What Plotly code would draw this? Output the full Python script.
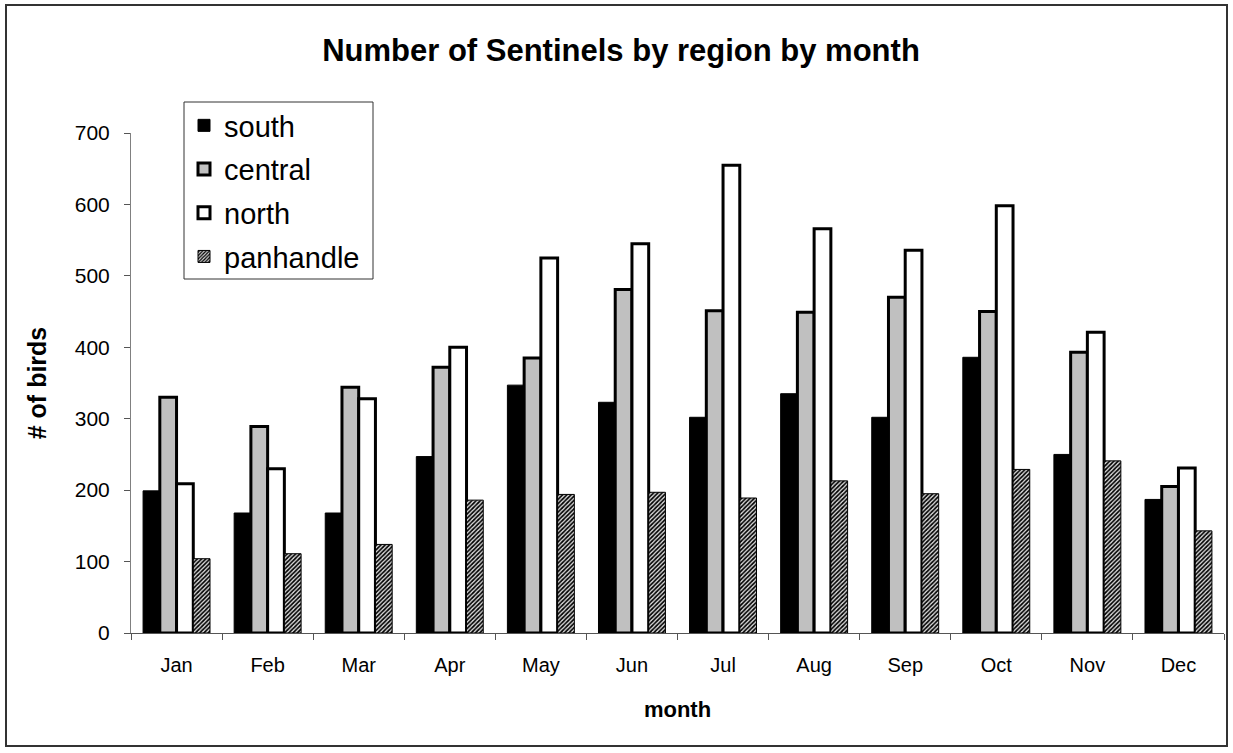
import plotly.graph_objects as go

months = ["Jan", "Feb", "Mar", "Apr", "May", "Jun", "Jul", "Aug", "Sep", "Oct", "Nov", "Dec"]
south = [199, 168, 168, 247, 347, 323, 302, 335, 302, 386, 250, 187]
central = [330, 289, 344, 372, 385, 481, 451, 449, 470, 450, 393, 205]
north = [209, 230, 328, 400, 525, 545, 655, 566, 536, 598, 421, 231]
panhandle = [104, 111, 124, 186, 194, 197, 189, 213, 195, 229, 241, 143]
y_ticks = [0, 100, 200, 300, 400, 500, 600, 700]

FONT = "Arial, Liberation Sans, sans-serif"
W, H = 1233, 753
L, R, T, B = 131, 9, 133, 120
pw, ph = W - L - R, H - T - B


def px_x(x):
    return (x - L) / pw


def px_y(y):
    return (H - B - y) / ph


fig = go.Figure()
fig.add_trace(go.Bar(name="south", x=months, y=south, legendgroup="a",
                     marker=dict(color="black", line=dict(color="black", width=1))))
fig.add_trace(go.Bar(name="central", x=months, y=central, legendgroup="b",
                     marker=dict(color="#c0c0c0", line=dict(color="black", width=3))))
fig.add_trace(go.Bar(name="north", x=months, y=north, legendgroup="c",
                     marker=dict(color="white", line=dict(color="black", width=3))))
fig.add_trace(go.Bar(name="panhandle", x=months, y=panhandle, legendgroup="d",
                     marker=dict(color="#e0e0e0", line=dict(color="black", width=1),
                                 pattern=dict(shape="/", fgcolor="black", size=3,
                                              solidity=0.55, fgopacity=1))))

fig.update_layout(
    width=W, height=H,
    margin=dict(l=L, r=R, t=T, b=B, pad=0),
    paper_bgcolor="white", plot_bgcolor="white",
    font=dict(family=FONT, color="black", size=20),
    barmode="group", bargap=0.265, bargroupgap=0,
    title=dict(text="<b>Number of Sentinels by region by month</b>",
               x=621 / W, xanchor="center", xref="container",
               y=1 - 50 / H, yanchor="middle", yref="container",
               font=dict(family=FONT, size=31, color="black")),
    showlegend=True,
    legend=dict(x=px_x(184), y=px_y(100), xanchor="left", yanchor="top",
                bgcolor="rgba(0,0,0,0)", borderwidth=0,
                traceorder="grouped", tracegroupgap=3,
                font=dict(family=FONT, size=29, color="black")),
    xaxis=dict(type="category", showgrid=False, showline=True, linecolor="#555555",
               linewidth=1, ticks="outside", tickson="boundaries", ticklen=6,
               tickcolor="#555555", tickfont=dict(size=20), ticklabelstandoff=14,
               title=dict(text="<b>month</b>", font=dict(size=22), standoff=26)),
    yaxis=dict(range=[0, 700], tickvals=y_ticks, showgrid=False, showline=True,
               linecolor="#808080", linewidth=1, ticks="outside", ticklen=6,
               tickcolor="#555555", tickfont=dict(size=21), ticklabelstandoff=10,
               zeroline=False,
               title=dict(text="<b># of birds</b>", font=dict(size=25), standoff=21)),
    shapes=[
        dict(type="rect", xref="paper", yref="paper",
             x0=px_x(6), x1=px_x(1227), y0=px_y(746), y1=px_y(5),
             line=dict(color="#333333", width=2), fillcolor="rgba(0,0,0,0)", layer="below"),
        dict(type="rect", xref="paper", yref="paper",
             x0=px_x(184), x1=px_x(373), y0=px_y(279), y1=px_y(102),
             line=dict(color="#333333", width=1), fillcolor="white", layer="below"),
    ],
)

fig.write_html("out.html")
